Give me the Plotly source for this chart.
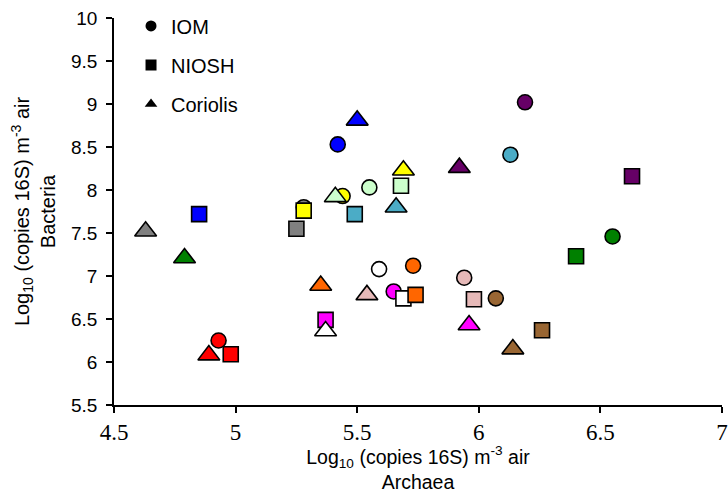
import plotly.graph_objects as go

# Colour of each site (same order used for every sampler)
colours = ["#FF0000", "#008000", "#0000FF", "#808080", "#FFFF00", "#CCFFCC",
           "#4BACC6", "#660066", "#FFFFFF", "#FF6600", "#FF00FF", "#E6B9B8", "#996633"]

# IOM (circles)
iom_archaea = [4.93, 6.55, 5.42, 5.28, 5.44, 5.55, 6.13, 6.19, 5.59, 5.73, 5.65, 5.94, 6.07]
iom_bacteria = [6.25, 7.46, 8.53, 7.80, 7.93, 8.03, 8.41, 9.02, 7.08, 7.12, 6.82, 6.98, 6.74]

# NIOSH (squares)
niosh_archaea = [4.98, 6.40, 4.85, 5.25, 5.28, 5.68, 5.49, 6.63, 5.69, 5.74, 5.37, 5.98, 6.26]
niosh_bacteria = [6.09, 7.23, 7.72, 7.55, 7.76, 8.05, 7.72, 8.16, 6.74, 6.78, 6.49, 6.73, 6.37]

# Coriolis (triangles)
cor_archaea = [4.89, 4.79, 5.50, 4.63, 5.69, 5.41, 5.66, 5.92, 5.37, 5.35, 5.96, 5.54, 6.14]
cor_bacteria = [6.08, 7.21, 8.81, 7.52, 8.23, 7.92, 7.80, 8.26, 6.36, 6.89, 6.43, 6.78, 6.15]

x_ticks = [4.5, 5, 5.5, 6, 6.5, 7]
y_ticks = [5.5, 6, 6.5, 7, 7.5, 8, 8.5, 9, 9.5, 10]

samplers = [
    ("IOM", "circle", iom_archaea, iom_bacteria, 15),
    ("NIOSH", "square", niosh_archaea, niosh_bacteria, 15),
    ("Coriolis", "triangle-up", cor_archaea, cor_bacteria, 19),
]

fig = go.Figure()
for name, sym, xs, ys, sz in samplers:
    fig.add_trace(go.Scatter(
        x=xs, y=ys, mode="markers", name=name, showlegend=False,
        marker=dict(symbol=sym, size=sz, color=colours,
                    line=dict(color="black", width=1.6)),
    ))

for i, (name, sym, xs, ys, sz) in enumerate(samplers):
    fig.add_trace(go.Scatter(
        x=[None], y=[None], mode="markers", name=name, legendgroup=name,
        marker=dict(symbol=sym, size=11, color="black"),
    ))

fig.update_layout(
    width=728, height=493,
    margin=dict(l=114, r=6, t=18, b=88),
    paper_bgcolor="white", plot_bgcolor="white",
    font=dict(family="Liberation Sans", color="black"),
    showlegend=True,
    legend=dict(x=0.028, y=1.03, xanchor="left", yanchor="top",
                bgcolor="rgba(0,0,0,0)", font=dict(size=20),
                tracegroupgap=10, traceorder="grouped", itemwidth=30),
    xaxis=dict(
        range=[4.5, 7], tickvals=x_ticks, ticktext=[str(v) for v in x_ticks],
        automargin=False,
        showgrid=False, zeroline=False, showline=True, linecolor="black", linewidth=1.5,
        ticks="outside", ticklen=6, tickcolor="black", tickwidth=1.5,
        tickfont=dict(family="Liberation Serif", size=23),
        title=dict(text="Log<sub>10</sub> (copies 16S) m<sup>-3</sup> air<br>Archaea",
                   font=dict(size=19.5), standoff=22),
    ),
    yaxis=dict(
        range=[5.5, 10], tickvals=y_ticks, ticktext=[("%g" % v) for v in y_ticks],
        automargin=False,
        showgrid=False, zeroline=False, showline=True, linecolor="black", linewidth=1.5,
        ticks="outside", ticklen=6, tickcolor="black", tickwidth=1.5,
        ticklabelstandoff=5,
        tickfont=dict(size=19),
        title=dict(text="Log<sub>10</sub> (copies 16S) m<sup>-3</sup> air<br>Bacteria",
                   font=dict(size=20), standoff=10),
    ),
)

fig.write_html("out.html")
